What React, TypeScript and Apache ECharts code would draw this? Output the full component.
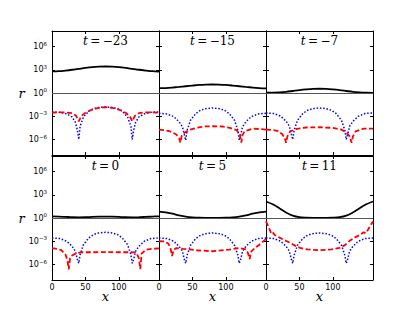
import React, { useEffect, useRef } from "react";
import * as echarts from "echarts";

// ---- data (y values are read as powers of ten off the log axis) ----
const T_LABELS = ["−23", "−15", "−7", "0", "5", "11"];
const X_TICKS = [0, 50, 100];
const Y_TICK_EXP = [-6, -3, 0, 3, 6];

const X_BLACK = [0, 10, 20, 30, 40, 50, 60, 70, 80, 90, 100, 110, 120, 130, 140, 150, 160];
const BLACK_1 = [2.78, 2.82, 2.9, 3.0, 3.12, 3.24, 3.34, 3.4, 3.42, 3.4, 3.34, 3.24, 3.12, 3.0, 2.9, 2.81, 2.75];
const BLACK_2 = [0.62, 0.64, 0.7, 0.78, 0.87, 0.96, 1.04, 1.09, 1.1, 1.09, 1.04, 0.96, 0.87, 0.78, 0.7, 0.64, 0.6];
const BLACK_3 = [0.04, 0.05, 0.08, 0.15, 0.26, 0.37, 0.46, 0.53, 0.55, 0.53, 0.46, 0.37, 0.26, 0.15, 0.08, 0.04, 0.02];
const BLACK_4 = [0.2, 0.18, 0.14, 0.1, 0.08, 0.1, 0.14, 0.17, 0.18, 0.17, 0.14, 0.1, 0.08, 0.1, 0.14, 0.18, 0.22];
const BLACK_5 = [0.82, 0.72, 0.55, 0.35, 0.18, 0.08, 0.03, 0.02, 0.02, 0.02, 0.03, 0.08, 0.18, 0.35, 0.55, 0.72, 0.82];
const BLACK_6 = [2.13, 1.77, 1.27, 0.72, 0.3, 0.1, 0.04, 0.02, 0.02, 0.02, 0.04, 0.1, 0.3, 0.72, 1.27, 1.77, 2.13];

const X_BLUE = [0, 12, 22, 30, 35, 38, 40, 42, 47, 55, 62, 70, 80, 90, 98, 105, 113, 118, 120, 122, 125, 130, 138, 148, 160];
const BLUE_1 = [-2.44, -2.49, -2.69, -3.09, -3.79, -4.84, -6.0, -4.3, -3.1, -2.35, -2.02, -1.86, -1.8, -1.86, -2.02, -2.35, -3.1, -4.3, -6.0, -4.84, -3.79, -3.09, -2.69, -2.49, -2.44];
const BLUE_2 = [-2.62, -2.7, -3.05, -3.7, -4.34, -5.42, -6.1, -4.83, -3.53, -2.66, -2.23, -2.02, -1.93, -2.02, -2.23, -2.66, -3.53, -4.83, -6.1, -5.42, -4.34, -3.7, -3.05, -2.7, -2.62];
const BLUE_3 = [-2.57, -2.65, -3.0, -3.65, -4.29, -5.37, -6.0, -4.83, -3.53, -2.66, -2.23, -2.02, -1.93, -2.02, -2.23, -2.66, -3.53, -4.83, -6.0, -5.37, -4.29, -3.65, -3.0, -2.65, -2.57];
const BLUE_4 = [-2.57, -2.65, -3.0, -3.65, -4.29, -5.37, -5.85, -4.74, -3.44, -2.57, -2.14, -1.93, -1.84, -1.93, -2.14, -2.57, -3.44, -4.74, -5.85, -5.37, -4.29, -3.65, -3.0, -2.65, -2.57];
const BLUE_5 = [-2.57, -2.65, -3.0, -3.65, -4.29, -5.37, -5.85, -4.83, -3.53, -2.66, -2.23, -2.02, -1.93, -2.02, -2.23, -2.66, -3.53, -4.83, -5.85, -5.37, -4.29, -3.65, -3.0, -2.65, -2.57];
const BLUE_6 = [-2.57, -2.65, -3.0, -3.65, -4.29, -5.37, -5.85, -4.83, -3.53, -2.66, -2.23, -2.02, -1.93, -2.02, -2.23, -2.66, -3.53, -4.83, -5.85, -5.37, -4.29, -3.65, -3.0, -2.65, -2.57];

// [x, power of ten]
const RED_1 = [[0, -2.55], [10, -2.5], [20, -2.5], [30, -2.6], [36, -2.95], [40, -3.65], [44, -2.95], [50, -2.55], [58, -2.2], [68, -1.95], [80, -1.82], [92, -1.95], [102, -2.2], [110, -2.55], [116, -2.95], [120, -3.65], [124, -2.95], [130, -2.6], [140, -2.5], [150, -2.5], [160, -2.55]];
const RED_2 = [[0, -4.72], [8, -4.8], [16, -4.93], [26, -5.36], [30, -5.8], [32, -6.4], [34, -5.5], [38, -5.14], [46, -4.72], [56, -4.5], [68, -4.32], [81, -4.29], [94, -4.32], [106, -4.5], [116, -4.8], [121, -5.4], [123, -6.4], [125, -5.4], [128, -4.93], [140, -4.6], [150, -4.65], [160, -4.72]];
const RED_3 = [[0, -4.72], [10, -4.76], [17, -4.88], [24, -5.3], [28, -5.8], [30, -6.43], [32, -5.6], [36, -4.95], [46, -4.63], [60, -4.45], [80, -4.42], [100, -4.5], [112, -4.7], [120, -5.05], [125, -5.6], [128, -6.43], [130, -5.6], [134, -4.95], [146, -4.6], [160, -4.6]];
const RED_4 = [[0, -3.9], [8, -3.98], [14, -4.15], [20, -4.7], [23, -5.4], [25, -6.64], [27, -5.2], [30, -4.85], [36, -4.55], [45, -4.42], [60, -4.42], [80, -4.4], [100, -4.42], [118, -4.42], [126, -4.45], [130, -5.2], [132, -6.6], [134, -4.6], [140, -4.1], [150, -3.98], [160, -3.93]];
const RED_5 = [[0, -3.0], [8, -3.02], [14, -3.3], [17, -3.8], [19.5, -4.9], [22, -4.1], [26, -3.88], [36, -3.98], [56, -4.16], [80, -4.29], [105, -4.07], [120, -3.88], [130, -4.05], [133, -4.5], [135.5, -5.3], [138, -4.3], [143, -3.9], [150, -3.45], [160, -2.7]];
const RED_6 = [[0, -0.44], [3, -1.0], [6, -1.6], [8, -2.0], [10, -1.85], [13, -2.2], [21, -2.57], [30, -2.95], [36, -3.2], [44, -3.6], [51, -3.86], [62, -4.05], [80, -4.16], [98, -4.05], [110, -3.86], [118, -3.5], [125, -2.95], [133, -2.5], [140, -2.2], [146, -1.85], [149, -1.95], [152, -1.57], [156, -1.0], [160, -0.44]];

const BLACKS = [BLACK_1, BLACK_2, BLACK_3, BLACK_4, BLACK_5, BLACK_6];
const BLUES = [BLUE_1, BLUE_2, BLUE_3, BLUE_4, BLUE_5, BLUE_6];
const REDS = [RED_1, RED_2, RED_3, RED_4, RED_5, RED_6];

// ---- layout ----
const GRID_LEFT = [52, 159, 266];
const GRID_TOP = [31, 156];
const GRID_W = 107;
const GRID_H = 124;

const SANS = "DejaVu Sans";
const SERIF = "DejaVu Serif";

function buildOption() {
  const Y_TICKS = Y_TICK_EXP.map((e) => Math.pow(10, e));
  const grid: any[] = [];
  const xAxis: any[] = [];
  const yAxis: any[] = [];
  const series: any[] = [];
  const graphic: any[] = [];

  const yFormatter = (v: number) => {
    const e = Math.round(Math.log10(v));
    const s = e < 0 ? "−" + -e : String(e);
    return `{b|10}{s|${s}}`;
  };
  const yRich = {
    b: { fontSize: 8, fontFamily: SANS, color: "#000", lineHeight: 12 },
    s: { fontSize: 5.5, fontFamily: SANS, color: "#000", lineHeight: 6, verticalAlign: "top" },
  };

  for (let i = 0; i < 6; i++) {
    const c = i % 3;
    const r = Math.floor(i / 3);
    grid.push({ left: GRID_LEFT[c], top: GRID_TOP[r], width: GRID_W, height: GRID_H, containLabel: false });
    const axLine = { show: true, onZero: false, lineStyle: { color: "#000", width: 1 } };
    const xTick = { show: true, inside: true, length: 3, customValues: X_TICKS, lineStyle: { color: "#000", width: 1 } };
    const yTick = { show: true, inside: true, length: 3, customValues: Y_TICKS, lineStyle: { color: "#000", width: 1 } };
    xAxis.push({
      type: "value", gridIndex: i, min: 0, max: 160, position: "bottom",
      axisLine: axLine, axisTick: xTick, splitLine: { show: false },
      axisLabel: { show: r === 1, customValues: X_TICKS, margin: 3, fontSize: 8, fontFamily: SANS, color: "#000" },
    });
    xAxis.push({
      type: "value", gridIndex: i, min: 0, max: 160, position: "top",
      axisLine: axLine, axisTick: xTick, splitLine: { show: false }, axisLabel: { show: false },
    });
    yAxis.push({
      type: "log", logBase: 10, gridIndex: i, min: 1e-8, max: 1e8, position: "left",
      axisLine: axLine, axisTick: yTick, splitLine: { show: false },
      axisLabel: { show: c === 0, customValues: Y_TICKS, margin: 5, formatter: yFormatter, rich: yRich },
    });
    yAxis.push({
      type: "log", logBase: 10, gridIndex: i, min: 1e-8, max: 1e8, position: "right",
      axisLine: axLine, axisTick: yTick, splitLine: { show: false }, axisLabel: { show: false },
    });

    series.push({
      type: "line", xAxisIndex: 2 * i, yAxisIndex: 2 * i,
      data: X_BLACK.map((x, k) => [x, Math.pow(10, BLACKS[i][k])]),
      symbol: "none", smooth: 0.3, lineStyle: { color: "#000", width: 1.8 }, z: 3,
      markLine: {
        silent: true, symbol: ["none", "none"], label: { show: false },
        lineStyle: { color: "#555", width: 1, type: "solid" }, data: [{ yAxis: 1 }],
      },
    });
    series.push({
      type: "line", xAxisIndex: 2 * i, yAxisIndex: 2 * i,
      data: X_BLUE.map((x, k) => [x, Math.pow(10, BLUES[i][k])]),
      symbol: "none", lineStyle: { color: "#0000ff", width: 1.5, type: [1.5, 1.8] }, z: 4,
    });
    series.push({
      type: "line", xAxisIndex: 2 * i, yAxisIndex: 2 * i,
      data: REDS[i].map((p) => [p[0], Math.pow(10, p[1])]),
      symbol: "none", lineStyle: { color: "#ff0000", width: 1.8, type: [5, 2.5] }, z: 5,
    });

    const cx = GRID_LEFT[c] + GRID_W / 2;
    graphic.push({
      type: "text", x: cx, y: GRID_TOP[r] + 10, z: 10,
      style: {
        text: `{i|t}{n|\u2009=\u2009${T_LABELS[i]}}`,
        align: "center", verticalAlign: "middle", fill: "#000",
        rich: {
          i: { fontFamily: SERIF, fontStyle: "italic", fontSize: 12, fill: "#000" },
          n: { fontFamily: SERIF, fontSize: 12, fill: "#000" },
        },
      },
    });
    if (r === 1) {
      graphic.push({
        type: "text", x: cx, y: 296.5, z: 10,
        style: { text: "x", fontFamily: SERIF, fontStyle: "italic", fontSize: 13, fill: "#000", align: "center", verticalAlign: "middle" },
      });
    }
  }
  for (let r = 0; r < 2; r++) {
    graphic.push({
      type: "text", x: 21.7, y: GRID_TOP[r] + GRID_H / 2, z: 10,
      style: { text: "r", fontFamily: SERIF, fontStyle: "italic", fontSize: 13, fill: "#000", align: "center", verticalAlign: "middle" },
    });
  }

  return { animation: false, backgroundColor: "#fff", grid, xAxis, yAxis, series, graphic };
}

export default function App() {
  const ref = useRef<HTMLDivElement>(null);
  useEffect(() => {
    if (!ref.current) return;
    const chart = echarts.init(ref.current, undefined, { renderer: "svg" });
    chart.setOption(buildOption());
    return () => chart.dispose();
  }, []);
  return (
    <div
      ref={ref}
      style={{ position: "fixed", left: 0, top: 0, width: 415, height: 312, background: "#fff" }}
    />
  );
}
